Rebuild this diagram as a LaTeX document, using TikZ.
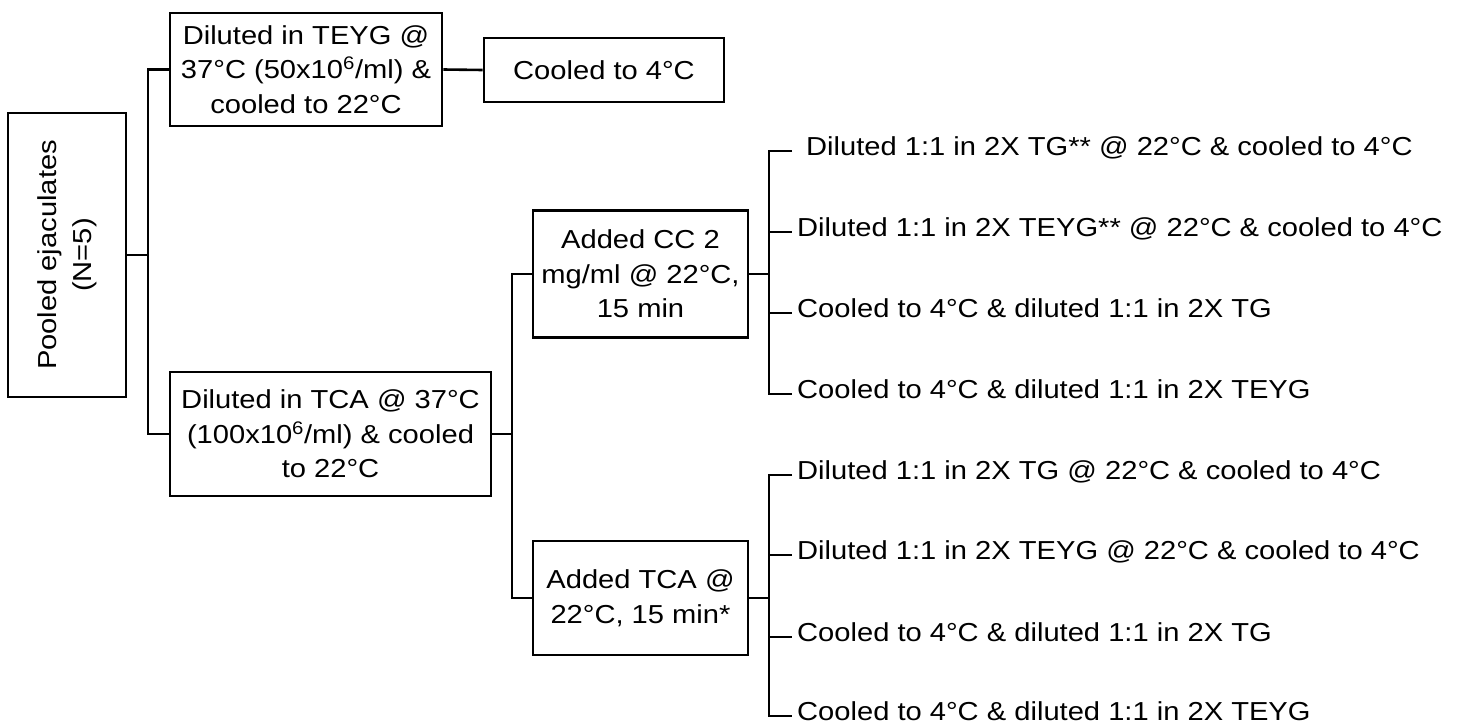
\documentclass[tikz,border=0pt]{standalone}
\usepackage{fontspec}
\setmainfont{Liberation Sans}[FakeStretch=1.12]
\begin{document}
\begin{tikzpicture}[x=1pt,y=-1pt,
  txt/.style={font=\fontsize{26pt}{34.5pt}\selectfont},
  box/.style={txt, draw, line width=2.6pt, align=center, inner sep=0pt},
  leaf/.style={txt, anchor=west, inner ysep=0pt, inner xsep=5pt, text height=10pt, text depth=2pt},
  conn/.style={line width=2.6pt}]
\useasboundingbox (0,0) rectangle (1465,723);
% boxes
\node[box, minimum width=118pt, minimum height=284pt] (pool) at (67,255)
  {\rotatebox{90}{\begin{tabular}{@{}c@{}}Pooled ejaculates\\(N=5)\end{tabular}}};
\node[box, minimum width=272pt, minimum height=113pt] (teyg) at (306,69.5)
  {Diluted in TEYG @\\37°C (50x10\textsuperscript{6}/ml) \&\\cooled to 22°C};
\node[box, minimum width=240pt, minimum height=64pt] (cool) at (604,70) {Cooled to 4°C};
\node[box, minimum width=321pt, minimum height=124pt] (tca) at (330.5,434)
  {Diluted in TCA @ 37°C\\(100x10\textsuperscript{6}/ml) \& cooled\\to 22°C};
\node[box, minimum width=215pt, minimum height=127pt] (cc) at (640.5,274)
  {Added CC 2\\mg/ml @ 22°C,\\15 min};
\node[box, minimum width=215pt, minimum height=114pt] (atca) at (640.5,598)
  {Added TCA @\\22°C, 15 min*};
% leaves
\node[leaf, inner xsep=14pt] (l1) at (792,151) {Diluted 1:1 in 2X TG** @ 22°C \& cooled to 4°C};
\node[leaf] (l2) at (792,232) {Diluted 1:1 in 2X TEYG** @ 22°C \& cooled to 4°C};
\node[leaf] (l3) at (792,313) {Cooled to 4°C \& diluted 1:1 in 2X TG};
\node[leaf] (l4) at (792,394) {Cooled to 4°C \& diluted 1:1 in 2X TEYG};
\node[leaf] (m1) at (792,475) {Diluted 1:1 in 2X TG @ 22°C \& cooled to 4°C};
\node[leaf] (m2) at (792,555) {Diluted 1:1 in 2X TEYG @ 22°C \& cooled to 4°C};
\node[leaf] (m3) at (792,637) {Cooled to 4°C \& diluted 1:1 in 2X TG};
\node[leaf] (m4) at (792,716) {Cooled to 4°C \& diluted 1:1 in 2X TEYG};
% bracket columns
\coordinate (x1) at (148,0);
\coordinate (x2) at (512,0);
\coordinate (x3) at (769,0);
% connectors
\draw[conn] (pool.east) -- (pool.east -| x1);
\draw[conn] (teyg.west) -| (x1 |- tca.west) -- (tca.west);
\draw[conn] (teyg.east) -- (cool.west);
\draw[conn] (tca.east) -- (tca.east -| x2);
\draw[conn] (cc.west) -| (x2 |- atca.west) -- (atca.west);
\draw[conn] (cc.east) -- (cc.east -| x3);
\draw[conn] (l1.west) -| (x3 |- l4.west) -- (l4.west);
\draw[conn] (x3 |- l2.west) -- (l2.west);
\draw[conn] (x3 |- l3.west) -- (l3.west);
\draw[conn] (atca.east) -- (atca.east -| x3);
\draw[conn] (m1.west) -| (x3 |- m4.west) -- (m4.west);
\draw[conn] (x3 |- m2.west) -- (m2.west);
\draw[conn] (x3 |- m3.west) -- (m3.west);
\end{tikzpicture}
\end{document}
